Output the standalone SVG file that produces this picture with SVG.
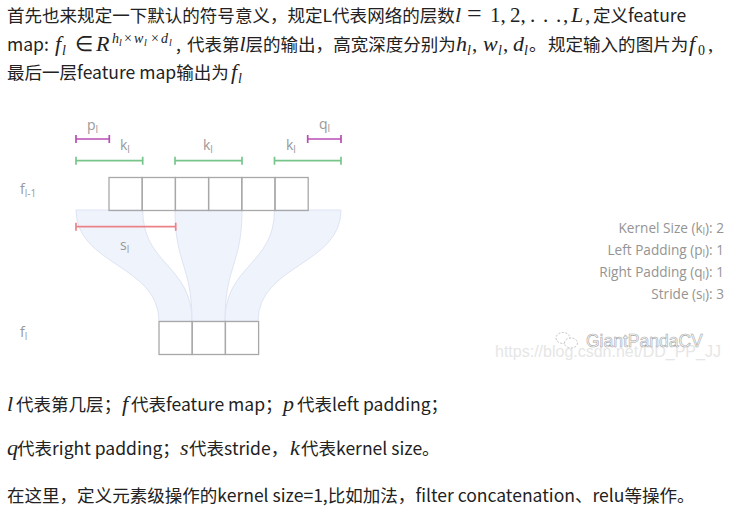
<svg xmlns="http://www.w3.org/2000/svg" width="732" height="513" viewBox="0 0 732 513">
<style>
.t{font-family:"Noto Sans CJK SC","Noto Sans",sans-serif;font-size:17.55px;fill:#222}
.m{font-family:"Liberation Serif",serif;font-style:italic;font-size:22px;fill:#222}
.n{font-family:"Liberation Serif",serif;font-size:21px;fill:#222}
.s{font-size:14px}
.x{font-size:10px}
.l{font-family:"Open Sans",sans-serif;font-size:14px;fill:#999}
.g{font-family:"Open Sans",sans-serif;font-size:13.6px;fill:#949494}
.sub{font-size:10px}
.cell{fill:none;stroke:#a8a8a8;stroke-width:1.3}
.flow{fill:#eff3fb;stroke:#dfe4f4;stroke-width:1}
.b{fill:none;stroke-width:1.7}
</style>
<rect width="732" height="513" fill="#fff"/>

<g id="text-top">
<text class="t" x="7" y="22">首先也来规定一下默认的符号意义，规定L代表网络的层数</text>
<text class="m" x="455" y="22">l</text>
<text class="n" x="467" y="22" style="font-size:26px">=</text>
<text class="n" x="490" y="22">1,</text>
<text class="n" x="510" y="22">2,</text>
<text class="n" x="530" y="22">.</text>
<text class="n" x="543" y="22">.</text>
<text class="n" x="556" y="22">.</text>
<text class="n" x="563" y="22">,</text>
<text class="m" x="571" y="22">L</text>
<text class="n" x="585" y="22">,</text>
<text class="t" x="593" y="22">定义feature</text>

<text class="t" x="7" y="51">map:</text>
<text class="m" x="55" y="51">f</text><text class="m s" x="62" y="55">l</text>
<text class="n" x="75" y="51">∈</text>
<text class="m" x="96" y="51">R</text>
<text class="m s" x="112" y="43">h</text><text class="m x" x="119" y="46">l</text>
<text class="n s" x="124" y="43">×</text>
<text class="m s" x="134" y="43">w</text><text class="m x" x="144" y="46">l</text>
<text class="n s" x="151" y="43">×</text>
<text class="m s" x="161" y="43">d</text><text class="m x" x="169" y="46">l</text>
<text class="t" x="176" y="51">,</text>
<text class="t" x="187" y="51">代表第</text>
<text class="m" x="239.500" y="51">l</text>
<text class="t" x="245.500" y="51">层的输出，高宽深度分别为</text>
<text class="m" x="456" y="51">h</text><text class="m s" x="467" y="55">l</text>
<text class="n" x="472" y="51">,</text>
<text class="m" x="483" y="51">w</text><text class="m s" x="498" y="55">l</text>
<text class="n" x="503" y="51">,</text>
<text class="m" x="513" y="51">d</text><text class="m s" x="524" y="55">l</text>
<text class="t" x="529" y="51">。</text>
<text class="t" x="548" y="51">规定输入的图片为</text>
<text class="m" x="689" y="51">f</text><text class="n s" x="698" y="55">0</text>
<text class="n" x="708" y="51">,</text>

<text class="t" x="7" y="79">最后一层feature map输出为</text>
<text class="m" x="231" y="79">f</text><text class="m s" x="238" y="83">l</text>
</g>

<g id="connectors">
<path class="flow" d="M76,210H142.700C142.700,265 192,265 192,321H159C159,265 76,265 76,210Z"/>
<path class="flow" d="M175,210H242C242,265 225,265 225,321H192C192,265 175,265 175,210Z"/>
<path class="flow" d="M274.500,210H341C341,265 258,265 258,321H225C225,265 274.500,265 274.500,210Z"/>
<path class="b" stroke="#b94db5" d="M76,139H109.300M76,135V143M109.300,135V143"/>
<path class="b" stroke="#b94db5" d="M307.700,139H341M307.700,135V143M341,135V143"/>
<path class="b" stroke="#78c58c" d="M76,160.700H142.700M76,156.700V164.700M142.700,156.700V164.700"/>
<path class="b" stroke="#78c58c" d="M175,160.700H242M175,156.700V164.700M242,156.700V164.700"/>
<path class="b" stroke="#78c58c" d="M274.500,160.700H341M274.500,156.700V164.700M341,156.700V164.700"/>
<path class="b" stroke="#ea8288" d="M76,226.700H175.700M76,222.700V230.700M175.700,222.700V230.700"/>
</g>

<g id="layer-top">
<rect class="cell" x="109" y="177.500" width="33.200" height="33"/>
<rect class="cell" x="142.200" y="177.500" width="33.200" height="33"/>
<rect class="cell" x="175.400" y="177.500" width="33.200" height="33"/>
<rect class="cell" x="208.600" y="177.500" width="33.200" height="33"/>
<rect class="cell" x="241.800" y="177.500" width="33.200" height="33"/>
<rect class="cell" x="275" y="177.500" width="33.200" height="33"/>
</g>
<g id="layer-bottom">
<rect class="cell" x="159" y="321.500" width="33.200" height="33"/>
<rect class="cell" x="192.200" y="321.500" width="33.200" height="33"/>
<rect class="cell" x="225.400" y="321.500" width="33.200" height="33"/>
</g>

<g id="labels">
<text class="l" x="87" y="130">p<tspan class="sub" dy="3">l</tspan></text>
<text class="l" x="120" y="150">k<tspan class="sub" dy="3">l</tspan></text>
<text class="l" x="203" y="150">k<tspan class="sub" dy="3">l</tspan></text>
<text class="l" x="286" y="150">k<tspan class="sub" dy="3">l</tspan></text>
<text class="l" x="319" y="129">q<tspan class="sub" dy="3">l</tspan></text>
<text class="l" x="120" y="250">s<tspan class="sub" dy="3">l</tspan></text>
<text class="l" x="20" y="194">f<tspan class="sub" dy="3">l-1</tspan></text>
<text class="l" x="20" y="337">f<tspan class="sub" dy="3">l</tspan></text>
</g>

<g id="legend">
<text class="g" x="724" y="233" text-anchor="end">Kernel Size (k<tspan class="sub" dy="2">l</tspan><tspan dy="-2">): 2</tspan></text>
<text class="g" x="724" y="255" text-anchor="end">Left Padding (p<tspan class="sub" dy="2">l</tspan><tspan dy="-2">): 1</tspan></text>
<text class="g" x="724" y="277" text-anchor="end">Right Padding (q<tspan class="sub" dy="2">l</tspan><tspan dy="-2">): 1</tspan></text>
<text class="g" x="724" y="299" text-anchor="end">Stride (s<tspan class="sub" dy="2">l</tspan><tspan dy="-2">): 3</tspan></text>
</g>

<g id="watermark">
<text x="495" y="357" font-family="Liberation Sans,sans-serif" font-size="16" fill="#e6e6e6">https://blog.csdn.net/DD_PP_JJ</text>
<ellipse cx="563" cy="338" rx="7" ry="5.500" fill="#fff" stroke="#c4c4c4" stroke-dasharray="2 1.500"/>
<ellipse cx="571" cy="343" rx="6.500" ry="5" fill="#fff" stroke="#c4c4c4" stroke-dasharray="2 1.500"/>
<text x="586" y="347" font-family="Liberation Sans,sans-serif" font-size="17.500" fill="#fff" stroke="#a8a8a8" stroke-width=".6">GiantPandaCV</text>
</g>

<g id="text-bottom">
<text class="m" x="7" y="411">l</text>
<text class="t" x="16" y="411">代表第几层；</text>
<text class="m" x="122" y="411">f</text>
<text class="t" x="131" y="411">代表feature map；</text>
<text class="m" x="283" y="411">p</text>
<text class="t" x="297" y="411">代表left padding；</text>

<text class="m" x="7" y="455">q</text>
<text class="t" x="17" y="455">代表right padding；</text>
<text class="m" x="180" y="455">s</text>
<text class="t" x="189" y="455">代表stride，</text>
<text class="m" x="290" y="455">k</text>
<text class="t" x="301" y="455">代表kernel size。</text>

<text class="t" x="7" y="502">在这里，定义元素级操作的kernel size=1,比如加法，filter concatenation、relu等操作。</text>
</g>
</svg>
